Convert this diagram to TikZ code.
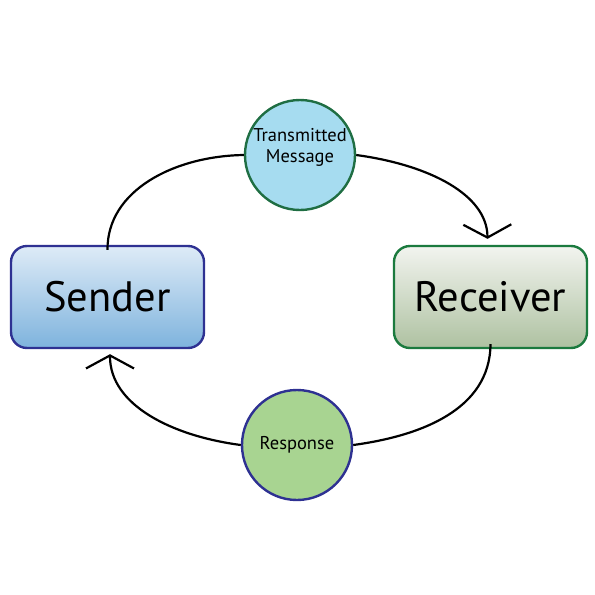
\documentclass[tikz,border=0pt]{standalone}
\usepackage{fontspec}
\setmainfont{PT Sans}
\usetikzlibrary{arrows.meta}
\definecolor{sblue}{HTML}{2E3192}
\definecolor{rgreen}{HTML}{1B7A3E}
\definecolor{cgreen}{HTML}{1F6E43}
\tikzset{
  box/.style={rounded corners=16pt, line width=2.4pt, minimum width=193pt, minimum height=102pt, inner sep=0pt, font=\fontsize{42.5}{46}\selectfont},
  bubble/.style={circle, line width=2.4pt, minimum size=110pt, inner sep=0pt, align=center, font=\fontsize{18.5}{23}\selectfont},
  conn/.style={line width=2.2pt, black},
  tip/.style={-{Straight Barb[length=13pt,width=48pt,line width=2.2pt]}}
}
\begin{document}
\begin{tikzpicture}[x=1pt,y=-1pt]
\useasboundingbox (0,0) rectangle (595,595);
\node[box, draw=sblue, top color={rgb,255:red,222;green,235;blue,247}, bottom color={rgb,255:red,126;green,179;blue,221}] (sender) at (107.5,297) {Sender};
\node[box, draw=rgreen, top color={rgb,255:red,242;green,244;blue,239}, bottom color={rgb,255:red,174;green,193;blue,161}] (receiver) at (490.5,297) {Receiver};
\node[bubble, draw=cgreen, fill={rgb,255:red,166;green,220;blue,240}] (msg) at (300,155) {\raisebox{3pt}[0pt][0pt]{\begin{tabular}{@{}c@{}}Transmitted\\[-2pt]Message\end{tabular}}};
\node[bubble, draw=sblue, fill={rgb,255:red,168;green,212;blue,145}] (resp) at (297,445) {Response};
\draw[conn] ([yshift=-5pt]sender.north) .. controls (107,190) and (175,156) .. (msg.west);
\draw[conn,tip] (msg.east) .. controls (430,165) and (487,195) .. ([xshift=-3pt,yshift=6pt]receiver.north);
\draw[conn] ([yshift=5pt]receiver.south) .. controls (490,410) and (420,436) .. (resp.east);
\draw[conn,tip] (resp.west) .. controls (172,436) and (110,405) .. ([xshift=2.5pt,yshift=-5pt]sender.south);
\end{tikzpicture}
\end{document}
